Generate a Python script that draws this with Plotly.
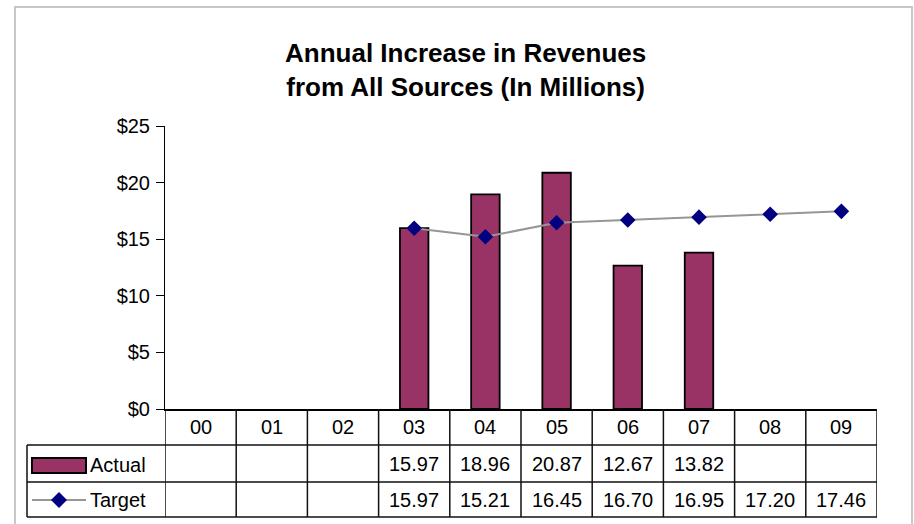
import plotly.graph_objects as go

# Fiscal years and revenue figures (millions of dollars)
years = ["00", "01", "02", "03", "04", "05", "06", "07", "08", "09"]
actual = [None, None, None, 15.97, 18.96, 20.87, 12.67, 13.82, None, None]
target = [None, None, None, 15.97, 15.21, 16.45, 16.70, 16.95, 17.20, 17.46]
y_ticks = [0, 5, 10, 15, 20, 25]
y_tick_labels = ["$0", "$5", "$10", "$15", "$20", "$25"]

W, H = 914, 524
L, R, T, B = 165, 877, 126, 409  # plot area edges in pixels

BAR_COLOR = "#993366"
LINE_COLOR = "#969696"
MARK_COLOR = "#000080"
FONT = "Arial, Liberation Sans, sans-serif"


def px_x(px):
    return (px - L) / (R - L)


def px_y(py):
    return (B - py) / (B - T)


fig = go.Figure()

fig.add_trace(go.Bar(
    x=years, y=actual, name="Actual", width=0.4,
    marker=dict(color=BAR_COLOR, line=dict(color="black", width=1.8)),
    showlegend=False, hoverinfo="x+y",
))
fig.add_trace(go.Scatter(
    x=years, y=target, name="Target", mode="lines+markers",
    line=dict(color=LINE_COLOR, width=2),
    marker=dict(symbol="diamond", size=12, color=MARK_COLOR),
    showlegend=False, connectgaps=False,
))

shapes = []
annotations = []

# outer chart frame
shapes.append(dict(type="rect", xref="paper", yref="paper",
                   x0=px_x(15), x1=px_x(912), y0=px_y(540), y1=px_y(7),
                   line=dict(color="#c8c8c8", width=2), layer="below"))

# data table grid below the axis
row_y = [409, 445, 482, 517]
line_style = dict(color="#111111", width=1.5)
for py in row_y[1:]:
    shapes.append(dict(type="line", xref="paper", yref="paper",
                       x0=px_x(27), x1=px_x(R), y0=px_y(py), y1=px_y(py),
                       line=line_style))
shapes.append(dict(type="line", xref="paper", yref="paper",
                   x0=px_x(27), x1=px_x(27), y0=px_y(445), y1=px_y(517),
                   line=line_style))
for i in range(len(years) + 1):
    shapes.append(dict(type="line", xref="x", yref="paper",
                       x0=i - 0.5, x1=i - 0.5, y0=px_y(409), y1=px_y(517),
                       line=line_style))

# table row headers: legend keys
shapes.append(dict(type="rect", xref="paper", yref="paper",
                   x0=px_x(32), x1=px_x(86), y0=px_y(473), y1=px_y(458),
                   fillcolor=BAR_COLOR, line=dict(color="black", width=2)))
shapes.append(dict(type="line", xref="paper", yref="paper",
                   x0=px_x(32), x1=px_x(86), y0=px_y(500), y1=px_y(500),
                   line=dict(color=LINE_COLOR, width=2)))
cx, cy, d = 59, 500, 8
path = "M {:.5f},{:.5f} L {:.5f},{:.5f} L {:.5f},{:.5f} L {:.5f},{:.5f} Z".format(
    px_x(cx - d), px_y(cy), px_x(cx), px_y(cy - d),
    px_x(cx + d), px_y(cy), px_x(cx), px_y(cy + d))
shapes.append(dict(type="path", xref="paper", yref="paper", path=path,
                   fillcolor=MARK_COLOR, line=dict(color=MARK_COLOR, width=0)))

text_font = dict(family=FONT, size=20, color="black")
annotations.append(dict(xref="paper", yref="paper", x=px_x(88), y=px_y(465),
                        text="Actual", showarrow=False, xanchor="left",
                        yanchor="middle", font=text_font))
annotations.append(dict(xref="paper", yref="paper", x=px_x(88), y=px_y(500),
                        text="Target", showarrow=False, xanchor="left",
                        yanchor="middle", font=text_font))

for i, yr in enumerate(years):
    annotations.append(dict(xref="x", yref="paper", x=i, y=px_y(427),
                            text=yr, showarrow=False, yanchor="middle",
                            font=text_font))
    if actual[i] is not None:
        annotations.append(dict(xref="x", yref="paper", x=i, y=px_y(464),
                                text=f"{actual[i]:.2f}", showarrow=False,
                                yanchor="middle", font=text_font))
    if target[i] is not None:
        annotations.append(dict(xref="x", yref="paper", x=i, y=px_y(500),
                                text=f"{target[i]:.2f}", showarrow=False,
                                yanchor="middle", font=text_font))

# chart title
annotations.append(dict(xref="paper", yref="paper", x=px_x(465), y=px_y(70),
                        text="<b>Annual Increase in Revenues<br>from All Sources (In Millions)</b>",
                        showarrow=False, yanchor="middle", align="center",
                        font=dict(family=FONT, size=26, color="black")))

fig.update_layout(
    width=W, height=H,
    margin=dict(l=L, r=W - R, t=T, b=H - B, pad=0),
    paper_bgcolor="white", plot_bgcolor="white",
    shapes=shapes, annotations=annotations,
    bargap=0.6,
    font=dict(family=FONT, size=20, color="black"),
)
fig.update_xaxes(
    type="category", categoryorder="array", categoryarray=years,
    range=[-0.5, len(years) - 0.5], showticklabels=False, ticks="",
    showline=True, linecolor="black", linewidth=1.5, showgrid=False,
    zeroline=False,
)
fig.update_yaxes(
    range=[0, 25], tickvals=y_ticks, ticktext=y_tick_labels,
    ticks="outside", ticklen=8, tickcolor="black", tickwidth=1,
    showline=True, linecolor="black", linewidth=1, showgrid=False,
    zeroline=False, tickfont=dict(family=FONT, size=20, color="black"),
    ticklabelstandoff=2,
)

fig.write_html("out.html")
